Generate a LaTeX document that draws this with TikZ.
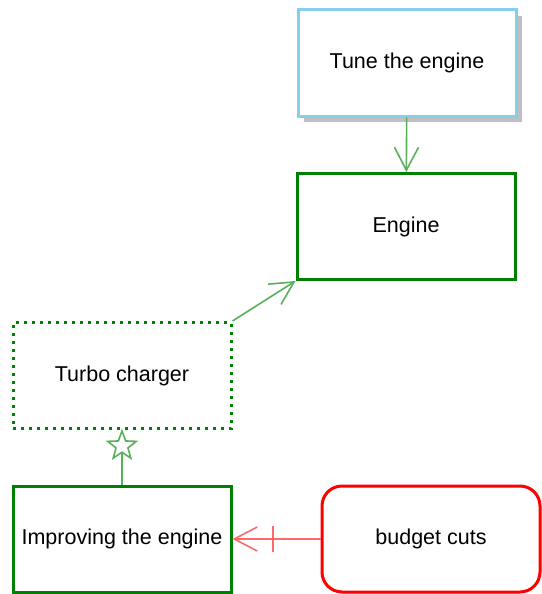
\documentclass[tikz,border=0pt]{standalone}
\usepackage{fontspec}
\setmainfont{Liberation Sans}
\usetikzlibrary{arrows.meta,shapes.geometric,shadows}

\definecolor{boxgreen}{RGB}{0,128,0}
\definecolor{linkgreen}{RGB}{90,175,90}
\definecolor{goalblue}{RGB}{135,206,235}
\definecolor{linkred}{RGB}{255,105,105}

\tikzset{
    block/.style={rectangle, draw=boxgreen, line width=3pt, fill=white,
        minimum width=218pt, minimum height=106pt, font=\fontsize{21.5}{25}\selectfont},
    link/.style={draw=linkgreen, line width=1.6pt},
    opentip/.style={-{Straight Barb[length=23pt,width=24pt]}},
    stargl/.style={star, star points=5, star point ratio=2.4, draw=linkgreen,
        line width=1.6pt, minimum size=30pt, inner sep=0pt}
}

\begin{document}
\begin{tikzpicture}[x=1pt,y=-1pt]
        \useasboundingbox (0,0) rectangle (541,594);

        \node[block, draw=goalblue, drop shadow={shadow xshift=6pt, shadow yshift=-6pt,
            fill=black!25, opacity=1}] (tune) at (407,63) {Tune the engine};
        \node[block] (engine) at (406,226.5) {Engine};
        \node[block, dash pattern=on 3pt off 5pt] (turbo) at (122,375.5) {Turbo charger};
        \node[block] (improve) at (122,539) {Improving the engine};
        \node[block, draw=red, rounded corners=20pt] (cuts) at (431,539) {budget cuts};
        \node[stargl] (mark) at (122,446) {};

        \draw[link,opentip] (tune) -- (engine);
        \draw[link,opentip] (turbo.north east) -- (engine.south west);
        \draw[link] (improve) -- (mark.south);
        \draw[link,draw=linkred,opentip] (cuts) -- coordinate[pos=0.54] (cutbar) (improve);
        \draw[link,draw=linkred] (cutbar) ++(0,-13) -- ++(0,26);

    \end{tikzpicture}
\end{document}
